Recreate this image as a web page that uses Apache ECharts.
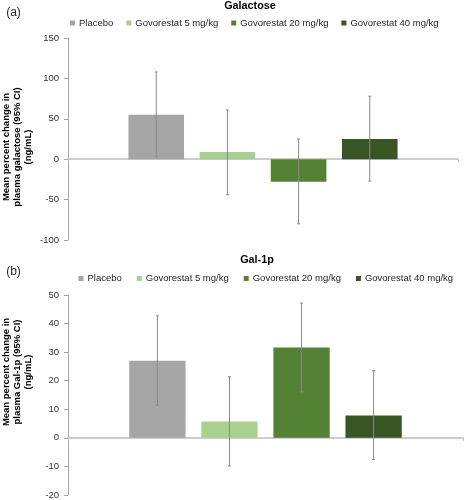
<!DOCTYPE html>
<html>
<head>
<meta charset="utf-8">
<script src="https://cdn.jsdelivr.net/npm/echarts@6/dist/echarts.min.js"></script>
<style>
html,body{margin:0;padding:0;background:#fff;}
#chart{width:464px;height:500px;}
</style>
</head>
<body>
<div id="chart"></div>
<script>
// ---- Data ----
const groups = ['Placebo', 'Govorestat 5 mg/kg', 'Govorestat 20 mg/kg', 'Govorestat 40 mg/kg'];
const xCategory = [''];

const galactoseMean  = [55, 9, -28, 25];
const galactoseLower = [3, -44, -80, -27];
const galactoseUpper = [108, 61, 25, 78];

const gal1pMean  = [27, 5.7, 31.6, 7.8];
const gal1pLower = [11.4, -9.8, 16.1, -7.6];
const gal1pUpper = [42.7, 21.4, 47.2, 23.5];

const galactoseTicks = { min: -100, max: 150, interval: 50 };
const gal1pTicks = { min: -20, max: 50, interval: 10 };

// ---- Styles ----
const colors = ['#a5a5a5', '#a9d08e', '#548235', '#375623'];
const FONT = 'Liberation Sans, Arial, sans-serif';
const CAT_GAP = 0.31, BAR_GAP = 0.28;

const chart = echarts.init(document.getElementById('chart'));

function barSeries(idx, means) {
  return groups.map((g, i) => ({
    name: g,
    type: 'bar',
    xAxisIndex: idx, yAxisIndex: idx,
    data: [means[i]],
    barCategoryGap: (CAT_GAP * 100) + '%',
    barGap: (BAR_GAP * 100) + '%',
    itemStyle: { color: colors[i] },
    emphasis: { disabled: true },
    animation: false
  }));
}

function errorSeries(idx, lower, upper) {
  const data = groups.map((g, i) => [0, i, lower[i], upper[i]]);
  return {
    type: 'custom',
    xAxisIndex: idx, yAxisIndex: idx,
    data: data,
    encode: { x: 0, y: [2, 3] },
    z: 10,
    silent: true,
    animation: false,
    renderItem: function (params, api) {
      const i = api.value(1);
      const n = groups.length;
      const band = api.size([1, 0])[0];
      const bw = (band * (1 - CAT_GAP)) / (n + (n - 1) * BAR_GAP);
      const total = n * bw + (n - 1) * BAR_GAP * bw;
      const off = -total / 2 + i * bw * (1 + BAR_GAP) + bw / 2;
      const lo = api.coord([api.value(0), api.value(2)]);
      const hi = api.coord([api.value(0), api.value(3)]);
      const x = lo[0] + off;
      const cap = 1.5;
      const st = { stroke: '#8a8a8a', lineWidth: 1 };
      return {
        type: 'group',
        children: [
          { type: 'line', shape: { x1: x, y1: lo[1], x2: x, y2: hi[1] }, style: st },
          { type: 'line', shape: { x1: x - cap, y1: lo[1], x2: x + cap, y2: lo[1] }, style: st },
          { type: 'line', shape: { x1: x - cap, y1: hi[1], x2: x + cap, y2: hi[1] }, style: st }
        ]
      };
    }
  };
}

function yAxis(idx, t) {
  return {
    type: 'value', gridIndex: idx,
    min: t.min, max: t.max, interval: t.interval,
    axisLine: { show: true, lineStyle: { color: '#a6a6a6', width: 1 } },
    axisTick: { show: true, inside: false, length: 4, lineStyle: { color: '#a6a6a6' } },
    splitLine: { show: false },
    axisLabel: { color: '#333333', fontSize: 9.5, fontFamily: FONT, margin: 9 }
  };
}

function xAxis(idx) {
  return {
    type: 'category', gridIndex: idx, data: xCategory,
    axisLine: { show: true, onZero: true, lineStyle: { color: '#bdbdbd', width: 1.5 } },
    axisTick: { show: true, length: 3, lineStyle: { color: '#bdbdbd' } },
    axisLabel: { show: false }
  };
}

function legend(left, top, gap) {
  return {
    data: groups, left: left, top: top,
    icon: 'rect', itemWidth: 5, itemHeight: 5, itemGap: gap,
    selectedMode: false,
    textStyle: { fontSize: 9.5, fontFamily: FONT, color: '#262626', padding: [0, 0, 0, -1] },
    padding: 0
  };
}

const titleStyle = { fontFamily: FONT, fontSize: 10.8, fontWeight: 'bold', fill: '#000' };
const labelStyle = { fontFamily: FONT, fontSize: 12, fill: '#262626' };
const yTitleStyle = { fontFamily: FONT, fontSize: 9.5, fontWeight: 'bold', fill: '#000', align: 'center', verticalAlign: 'middle', lineHeight: 11 };

chart.setOption({
  backgroundColor: '#ffffff',
  animation: false,
  grid: [
    { left: 68, right: 6, top: 38, bottom: 260 },
    { left: 68, right: 1, top: 295, bottom: 4 }
  ],
  xAxis: [xAxis(0), xAxis(1)],
  yAxis: [yAxis(0, galactoseTicks), yAxis(1, gal1pTicks)],
  legend: [legend(70, 18, 13), legend(78.5, 273.5, 15)],
  graphic: [
    { type: 'text', x: 250, y: 6, style: Object.assign({ text: 'Galactose', align: 'center', verticalAlign: 'middle' }, titleStyle) },
    { type: 'text', x: 13.5, y: 12.5, style: Object.assign({ text: '(a)', align: 'center', verticalAlign: 'middle' }, labelStyle) },
    { type: 'text', x: 257, y: 260, style: Object.assign({ text: 'Gal-1p', align: 'center', verticalAlign: 'middle' }, titleStyle) },
    { type: 'text', x: 13.5, y: 272, style: Object.assign({ text: '(b)', align: 'center', verticalAlign: 'middle' }, labelStyle) },
    { type: 'text', x: 17, y: 147, rotation: Math.PI / 2, style: Object.assign({ text: 'Mean percent change in\nplasma galactose (95% CI)\n(ng/mL)' }, yTitleStyle) },
    { type: 'text', x: 17, y: 372, rotation: Math.PI / 2, style: Object.assign({ text: 'Mean percent change in\nplasma Gal-1p (95% CI)\n(ng/mL)' }, yTitleStyle) }
  ],
  series: [].concat(
    barSeries(0, galactoseMean),
    [errorSeries(0, galactoseLower, galactoseUpper)],
    barSeries(1, gal1pMean),
    [errorSeries(1, gal1pLower, gal1pUpper)]
  )
});
</script>
</body>
</html>
